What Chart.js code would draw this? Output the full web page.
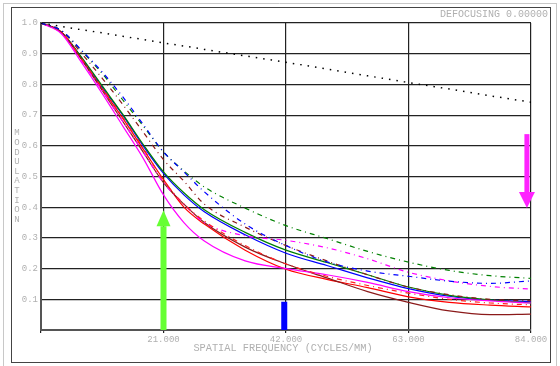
<!DOCTYPE html>
<html>
<head>
<meta charset="utf-8">
<script src="https://cdn.jsdelivr.net/npm/chart.js@4.4.0/dist/chart.umd.min.js"></script>
<style>
  body { margin: 0; background: #fff; }
  #mtf { display: block; }
</style>
</head>
<body>
<canvas id="mtf" width="560" height="366"></canvas>
<script>
// spatial frequency (cycles/mm) where the curves were read
const freq = [0, 3.5, 7, 10.5, 14, 17.5, 21, 24.5, 28, 35, 42, 49, 56, 63, 70, 77, 84];

// modulation values per curve
const diffLimit  = [1, 0.989, 0.978, 0.968, 0.957, 0.946, 0.935, 0.925, 0.914, 0.893, 0.872, 0.850, 0.828, 0.806, 0.785, 0.763, 0.742];
const blueT      = [1, 0.970, 0.885, 0.790, 0.700, 0.600, 0.510, 0.440, 0.385, 0.310, 0.250, 0.210, 0.170, 0.135, 0.110, 0.097, 0.093];
const blueS      = [1, 0.975, 0.910, 0.840, 0.760, 0.670, 0.580, 0.515, 0.450, 0.345, 0.275, 0.222, 0.192, 0.175, 0.159, 0.152, 0.160];
const greenT     = [1, 0.970, 0.887, 0.795, 0.703, 0.605, 0.515, 0.447, 0.392, 0.318, 0.260, 0.220, 0.180, 0.140, 0.113, 0.098, 0.088];
const greenS     = [1, 0.975, 0.908, 0.835, 0.750, 0.665, 0.580, 0.518, 0.466, 0.397, 0.340, 0.298, 0.256, 0.221, 0.194, 0.177, 0.168];
const redT       = [1, 0.970, 0.880, 0.785, 0.690, 0.590, 0.490, 0.400, 0.345, 0.260, 0.198, 0.165, 0.138, 0.108, 0.090, 0.081, 0.075];
const redS       = [1, 0.970, 0.882, 0.788, 0.693, 0.593, 0.487, 0.410, 0.355, 0.275, 0.215, 0.175, 0.145, 0.120, 0.100, 0.088, 0.082];
const maroonT    = [1, 0.970, 0.880, 0.780, 0.680, 0.580, 0.480, 0.410, 0.350, 0.270, 0.215, 0.170, 0.125, 0.090, 0.062, 0.050, 0.052];
const maroonS    = [1, 0.975, 0.900, 0.820, 0.735, 0.645, 0.555, 0.485, 0.410, 0.335, 0.275, 0.225, 0.180, 0.140, 0.115, 0.100, 0.095];
const magentaT   = [1, 0.965, 0.870, 0.770, 0.665, 0.560, 0.440, 0.350, 0.290, 0.225, 0.200, 0.180, 0.155, 0.125, 0.105, 0.095, 0.088];
const magentaS   = [1, 0.967, 0.875, 0.780, 0.680, 0.580, 0.480, 0.410, 0.350, 0.307, 0.292, 0.268, 0.232, 0.188, 0.160, 0.142, 0.133];

const xTicks = [0, 21, 42, 63, 84];
const yLetters = ["M", "O", "D", "U", "L", "A", "T", "I", "O", "N"];
const xTitle = "SPATIAL FREQUENCY (CYCLES/MM)";
const defocusText = "DEFOCUSING 0.00000";

// markers: [frequency, from modulation, to modulation]
const greenArrow = [21, 0, 0.39];
const magentaArrow = [83.3, 0.638, 0.397];
const blueBar = [41.7, 0, 0.092];

const pts = (vals) => vals.map((v, i) => ({ x: freq[i], y: v }));
const dashDot = [5, 4, 1, 4];

function series(label, vals, color, dash, width) {
  return {
    label,
    data: pts(vals),
    borderColor: color,
    borderWidth: width || 1.2,
    borderDash: dash || [],
    pointRadius: 0,
    fill: false,
    cubicInterpolationMode: "monotone",
  };
}

const datasets = [
  series("Diffraction limit", diffLimit, "#000000", [1.5, 6], 1.5),
  series("Field 1 S", blueS, "#0000ff", dashDot),
  series("Field 2 S", greenS, "#008000", dashDot),
  series("Field 3 S", redS, "#ff2020", dashDot),
  series("Field 4 S", maroonS, "#8b1a1a", dashDot),
  series("Field 5 S", magentaS, "#ff00ff", dashDot),
  series("Field 5 T", magentaT, "#ff00ff"),
  series("Field 4 T", maroonT, "#8b1a1a"),
  series("Field 3 T", redT, "#ff0000"),
  series("Field 2 T", greenT, "#008000"),
  series("Field 1 T", blueT, "#0000ff"),
];

const mono = "'Liberation Mono', 'DejaVu Sans Mono', monospace";
const textGray = "#b0b0b0";

function arrow(ctx, x, yFrom, yTo, shaftW, headW, headL, color) {
  const dir = yTo < yFrom ? -1 : 1;
  const base = yTo - dir * headL;
  ctx.fillStyle = color;
  ctx.fillRect(x - shaftW / 2, Math.min(yFrom, base), shaftW, Math.abs(base - yFrom));
  ctx.beginPath();
  ctx.moveTo(x - headW / 2, base);
  ctx.lineTo(x + headW / 2, base);
  ctx.lineTo(x, yTo);
  ctx.closePath();
  ctx.fill();
}

const overlay = {
  id: "overlay",
  afterDatasetsDraw(chart) {
    const { ctx, scales } = chart;
    const sx = scales.x, sy = scales.y;
    ctx.save();
    arrow(ctx, sx.getPixelForValue(greenArrow[0]), sy.getPixelForValue(greenArrow[1]),
      sy.getPixelForValue(greenArrow[2]), 6, 14, 16, "#66ff33");
    arrow(ctx, sx.getPixelForValue(magentaArrow[0]), sy.getPixelForValue(magentaArrow[1]),
      sy.getPixelForValue(magentaArrow[2]), 5, 16, 16, "#ff22ff");
    const bx = sx.getPixelForValue(blueBar[0]);
    const b0 = sy.getPixelForValue(blueBar[1]);
    const b1 = sy.getPixelForValue(blueBar[2]);
    ctx.fillStyle = "#0000ff";
    ctx.fillRect(bx - 3, b1, 6, b0 - b1);
    ctx.restore();
  },
  afterDraw(chart) {
    const { ctx } = chart;
    ctx.save();
    // outer frame
    ctx.strokeStyle = "#444";
    ctx.lineWidth = 1;
    ctx.strokeRect(11.5, 7.5, 539, 355);
    ctx.strokeStyle = "#c8c8c8";
    ctx.beginPath();
    ctx.moveTo(3.5, 4); ctx.lineTo(3.5, 366);
    ctx.moveTo(3, 3.5); ctx.lineTo(556, 3.5);
    ctx.moveTo(556.5, 3); ctx.lineTo(556.5, 366);
    ctx.stroke();

    ctx.fillStyle = textGray;
    ctx.font = "10px " + mono;
    ctx.textAlign = "right";
    ctx.textBaseline = "middle";
    ctx.fillText(defocusText, 548, 14);

    ctx.textAlign = "center";
    ctx.font = "10.3px " + mono;
    ctx.fillText(xTitle, 283, 348);

    ctx.font = "9px " + mono;
    yLetters.forEach((ch, i) => ctx.fillText(ch, 17, 133 + i * 9.6));
    ctx.restore();
  },
};

new Chart(document.getElementById("mtf"), {
  type: "line",
  data: { datasets },
  options: {
    responsive: false,
    animation: false,
    devicePixelRatio: 1,
    layout: { padding: { left: 0, top: 23, right: 29, bottom: 0 } },
    plugins: { legend: { display: false }, tooltip: { enabled: false } },
    scales: {
      x: {
        type: "linear",
        min: 0,
        max: 84,
        afterBuildTicks: (s) => { s.ticks = xTicks.map((v) => ({ value: v })); },
        afterFit: (s) => { s.height = 36; },
        ticks: {
          color: textGray,
          font: { family: mono, size: 9 },
          padding: 1,
          maxRotation: 0,
          callback: (v) => (v === 0 ? "" : Number(v).toFixed(3)),
        },
        grid: { color: "#222", lineWidth: 1.2, tickLength: 3, tickColor: "#222" },
        border: { color: "#555", width: 2 },
      },
      y: {
        min: 0,
        max: 1,
        afterFit: (s) => { s.width = 41; },
        ticks: {
          stepSize: 0.1,
          color: textGray,
          font: { family: mono, size: 9 },
          padding: 3,
          callback: (v) => (Math.abs(v) < 1e-9 ? "" : Number(v).toFixed(1)),
        },
        grid: { color: "#222", lineWidth: 1.2, drawTicks: false },
        border: { color: "#555", width: 2 },
      },
    },
  },
  plugins: [overlay],
});
</script>
</body>
</html>
